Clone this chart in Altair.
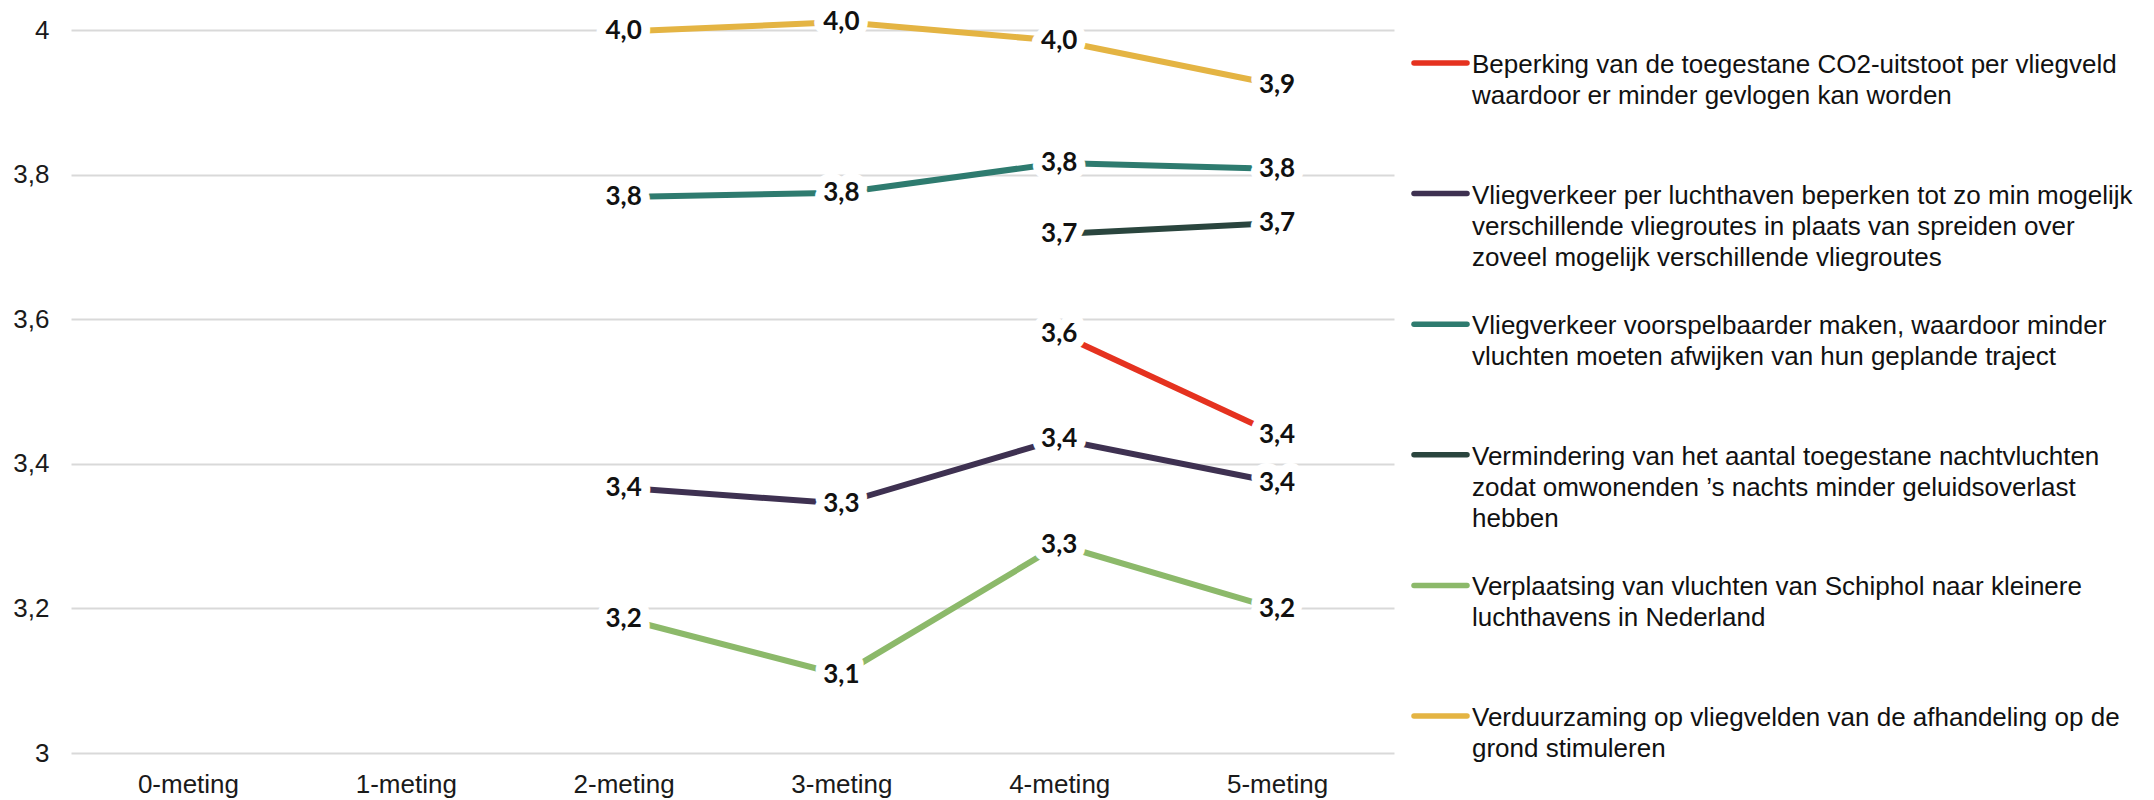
import altair as alt
import pandas as pd

# ---- data ----
categories = ["0-meting", "1-meting", "2-meting", "3-meting", "4-meting", "5-meting"]

series = [
    "Beperking van de toegestane CO2-uitstoot per vliegveld\nwaardoor er minder gevlogen kan worden",
    "Vliegverkeer per luchthaven beperken tot zo min mogelijk\nverschillende vliegroutes in plaats van spreiden over\nzoveel mogelijk verschillende vliegroutes",
    "Vliegverkeer voorspelbaarder maken, waardoor minder\nvluchten moeten afwijken van hun geplande traject",
    "Vermindering van het aantal toegestane nachtvluchten\nzodat omwonenden ’s nachts minder geluidsoverlast\nhebben",
    "Verplaatsing van vluchten van Schiphol naar kleinere\nluchthavens in Nederland",
    "Verduurzaming op vliegvelden van de afhandeling op de\ngrond stimuleren",
]

colors = ["#E5321F", "#3E3151", "#2E7B6F", "#2A453E", "#8CB96A", "#E4B443"]

co2_uitstoot = [None, None, None, None, 3.58, 3.44]
per_luchthaven = [None, None, 3.367, 3.345, 3.434, 3.374]
voorspelbaar = [None, None, 3.769, 3.775, 3.816, 3.808]
nachtvluchten = [None, None, None, None, 3.718, 3.733]
schiphol = [None, None, 3.186, 3.108, 3.288, 3.199]
verduurzaming = [None, None, 3.998, 4.011, 3.985, 3.924]

values = [co2_uitstoot, per_luchthaven, voorspelbaar, nachtvluchten, schiphol, verduurzaming]

y_ticks = [3, 3.2, 3.4, 3.6, 3.8, 4]

rows = []
for name, vals in zip(series, values):
    for cat, v in zip(categories, vals):
        if v is not None:
            rows.append({"meting": cat, "series": name, "value": v})
df = pd.DataFrame(rows)
legend_df = pd.DataFrame({"series": series, "label": series})

AXIS_FONT = "Liberation Sans"
LABEL_FONT = "Lato"

x_enc = alt.X(
    "meting:N",
    sort=categories,
    scale=alt.Scale(type="point", domain=categories, padding=0.537),
    axis=alt.Axis(
        title=None, labelAngle=0, domain=False, ticks=False, grid=False,
        labelFontSize=26, labelFont=AXIS_FONT, labelColor="#1a1a1a", labelPadding=18,
    ),
)
y_enc = alt.Y(
    "value:Q",
    scale=alt.Scale(domain=[3, 4], zero=False, nice=False),
    axis=alt.Axis(
        title=None, values=y_ticks, domain=False, ticks=False, grid=True,
        gridColor="#d9d9d9", gridWidth=2,
        labelExpr="replace(format(datum.value, '.1~f'), '.', ',')",
        labelFontSize=26, labelFont=AXIS_FONT, labelColor="#1a1a1a", labelPadding=22,
    ),
)
color_enc = alt.Color(
    "series:N", scale=alt.Scale(domain=series, range=colors), legend=None
)

base = alt.Chart(df)

lines = base.mark_line(strokeWidth=6).encode(x=x_enc, y=y_enc, color=color_enc)

labelled = base.transform_calculate(
    lbl="replace(format(datum.value, '.1f'), '.', ',')"
)
halo = labelled.mark_text(
    font=LABEL_FONT, fontWeight="bold", fontSize=26,
    fill="white", stroke="white", strokeWidth=18, strokeJoin="round",
).encode(x=x_enc, y=y_enc, text="lbl:N")
texts = labelled.mark_text(
    font=LABEL_FONT, fontWeight="bold", fontSize=26, color="#111111",
).encode(x=x_enc, y=y_enc, text="lbl:N")

main = alt.layer(lines, halo, texts)

leg_y = alt.Y(
    "series:N",
    sort=series,
    scale=alt.Scale(type="point", domain=series, range=[33, 686], padding=0),
    axis=None,
)
leg_rule = alt.Chart(legend_df).mark_rule(strokeWidth=5.5, strokeCap="round").encode(
    x=alt.value(1343), x2=alt.value(1396), y=leg_y, color=color_enc
)
leg_text = alt.Chart(legend_df).mark_text(
    align="left", baseline="top", dy=-11, lineBreak="\n", lineHeight=31,
    fontSize=26, font=AXIS_FONT, color="#111111",
).encode(x=alt.value(1401), y=leg_y, text="label:N")

legend = alt.layer(leg_rule, leg_text)

chart = (
    alt.layer(main, legend)
    .resolve_scale(y="independent")
    .properties(
        width=1323,
        height=723,
        padding={"left": 63, "top": 22, "right": 752, "bottom": 47},
        autosize=alt.AutoSizeParams(type="none"),
        background="white",
    )
    .configure_view(stroke=None)
)

chart.save("out.html", embed_options={"renderer": "svg", "actions": False})
